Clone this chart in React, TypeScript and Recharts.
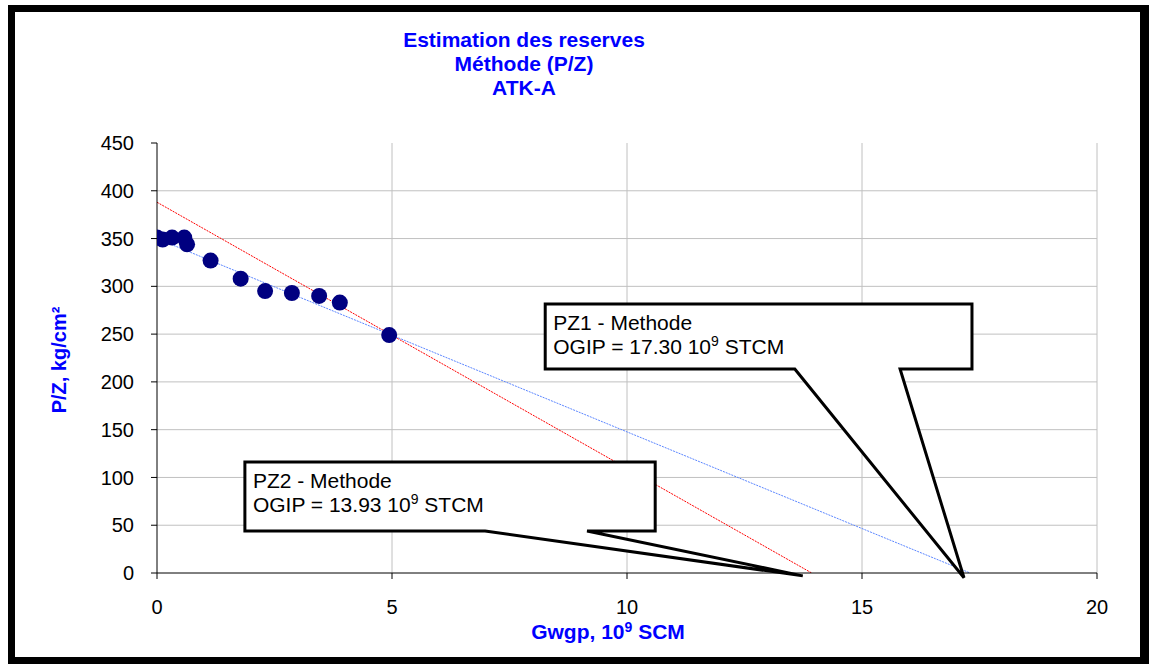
import React from 'react';
import {
  ComposedChart,
  Scatter,
  Line,
  XAxis,
  YAxis,
  CartesianGrid,
  ReferenceArea,
  Label,
} from 'recharts';

// measured points: cumulative gas produced (10^9 SCM) vs P/Z (kg/cm2)
const gwgp = [0, 0.12, 0.32, 0.58, 0.64, 1.14, 1.78, 2.3, 2.87, 3.45, 3.89, 4.94];
const pzValues = [351, 349, 351, 351, 344, 327, 308, 295, 293, 290, 283, 249];

// straight-line extrapolations
const pz1Gwgp = [0, 17.3];
const pz1Values = [350, 0];
const pz2Gwgp = [0, 13.93];
const pz2Values = [388, 0];

const xTicks = [0, 5, 10, 15, 20];
const yTicks = [0, 50, 100, 150, 200, 250, 300, 350, 400, 450];
const gridX = [5, 10, 15, 20];
const gridY = [50, 100, 150, 200, 250, 300, 350, 400];

const titleLines = ['Estimation des reserves', 'Méthode (P/Z)', 'ATK-A'];

const points = gwgp.map((x, i) => ({ x, y: pzValues[i] }));
const pz1Line = pz1Gwgp.map((x, i) => ({ x, y: pz1Values[i] }));
const pz2Line = pz2Gwgp.map((x, i) => ({ x, y: pz2Values[i] }));

// callout boxes, in data units
const callouts = [
  { name: 'PZ1 - Methode', ogip: '17.30', box: [8.26, 17.34, 213.5, 281.5], base: [13.57, 15.81], tip: [17.17, -5] },
  { name: 'PZ2 - Methode', ogip: '13.93', box: [1.87, 10.6, 44, 116.2], base: [6.98, 9.15], tip: [13.74, -3] },
];

const FONT = '"Liberation Sans", Arial, sans-serif';
const BLUE = '#0000ff';

function renderCallout(p: any, c: (typeof callouts)[number]) {
  const { x, y, width, height } = p;
  const [x1, x2, y1, y2] = c.box;
  const sx = width / (x2 - x1);
  const sy = height / (y2 - y1);
  const px = (v: number) => x + (v - x1) * sx;
  const py = (v: number) => y + (y2 - v) * sy;
  const left = x;
  const right = x + width;
  const top = y;
  const bottom = y + height;
  const d = `M${px(c.base[0])},${bottom} L${px(c.tip[0])},${py(c.tip[1])} L${px(c.base[1])},${bottom} L${right},${bottom} L${right},${top} L${left},${top} L${left},${bottom} Z`;
  return (
    <g>
      <path d={d} fill="#fff" stroke="#000" strokeWidth={3} strokeLinejoin="miter" />
      <text x={left + 8} y={top + 26} fontSize={21} fontFamily={FONT} fill="#000">
        {c.name}
      </text>
      <text x={left + 8} y={top + 50} fontSize={21} fontFamily={FONT} fill="#000">
        <tspan>{`OGIP = ${c.ogip} 10`}</tspan>
        <tspan fontSize={14} dy={-8}>9</tspan>
        <tspan dy={8}> STCM</tspan>
      </text>
    </g>
  );
}

export default function App() {
  return (
    <div style={{ position: 'absolute', left: 0, top: 0, width: 1154, height: 664, background: '#fff' }}>
      <div
        style={{
          position: 'absolute',
          left: 8,
          top: 5,
          width: 1141,
          height: 659,
          boxSizing: 'border-box',
          borderStyle: 'solid',
          borderColor: '#000',
          borderWidth: '7px 9px 7px 7px',
        }}
      />
      <div style={{ position: 'absolute', left: 0, top: 0 }}>
        <ComposedChart width={1154} height={664} margin={{ top: 143, right: 57, bottom: 51, left: 57 }}>
          <CartesianGrid
            stroke="#c0c0c0"
            strokeWidth={1}
            horizontalValues={gridY}
            verticalValues={gridX}
          />
          <XAxis
            type="number"
            dataKey="x"
            domain={[0, 20]}
            ticks={xTicks}
            allowDataOverflow
            height={40}
            stroke="#000"
            tickSize={6}
            tickMargin={21}
            tick={{ fill: '#000', fontSize: 20, fontFamily: FONT }}
          >
            <Label
              content={(lp: any) => {
                const vb = lp.viewBox;
                return (
                  <text
                    x={vb.x + vb.width / 2 - 19}
                    y={vb.y + 66}
                    textAnchor="middle"
                    fontSize={21}
                    fontWeight="bold"
                    fontFamily={FONT}
                    fill={BLUE}
                  >
                    <tspan>Gwgp, 10</tspan>
                    <tspan fontSize={14} dy={-7}>9</tspan>
                    <tspan dy={7}> SCM</tspan>
                  </text>
                );
              }}
            />
          </XAxis>
          <YAxis
            type="number"
            dataKey="y"
            domain={[0, 450]}
            ticks={yTicks}
            allowDataOverflow
            width={100}
            stroke="#000"
            tickSize={6}
            tickMargin={17}
            tick={{ fill: '#000', fontSize: 20, fontFamily: FONT }}
          >
            <Label
              content={(lp: any) => {
                const vb = lp.viewBox;
                const cx = 66;
                const cy = vb.y + vb.height / 2 + 2;
                return (
                  <text
                    x={cx}
                    y={cy}
                    transform={`rotate(-90, ${cx}, ${cy})`}
                    textAnchor="middle"
                    fontSize={20}
                    fontWeight="bold"
                    fontFamily={FONT}
                    fill={BLUE}
                  >
                    P/Z, kg/cm²
                  </text>
                );
              }}
            />
          </YAxis>
          <Line
            data={pz2Line}
            dataKey="y"
            stroke="#ff0000"
            strokeWidth={1}
            strokeDasharray="2 1"
            dot={false}
            activeDot={false}
            isAnimationActive={false}
          />
          <Line
            data={pz1Line}
            dataKey="y"
            stroke="#5b86ff"
            strokeWidth={1}
            strokeDasharray="2 1"
            dot={false}
            activeDot={false}
            isAnimationActive={false}
          />
          <Scatter
            data={points}
            dataKey="y"
            isAnimationActive={false}
            shape={(sp: any) => <circle cx={sp.cx} cy={sp.cy} r={8} fill="#000080" />}
          />
          {callouts.map((c) => (
            <ReferenceArea
              key={c.name}
              x1={c.box[0]}
              x2={c.box[1]}
              y1={c.box[2]}
              y2={c.box[3]}
              zIndex={1000}
              shape={(p: any) => renderCallout(p, c)}
            />
          ))}
        </ComposedChart>
      </div>
      {titleLines.map((t, i) => (
        <div
          key={t}
          style={{
            position: 'absolute',
            left: 324,
            width: 400,
            top: 28 + i * 24,
            textAlign: 'center',
            fontFamily: FONT,
            fontWeight: 'bold',
            fontSize: 21,
            lineHeight: '24px',
            color: BLUE,
          }}
        >
          {t}
        </div>
      ))}
    </div>
  );
}
